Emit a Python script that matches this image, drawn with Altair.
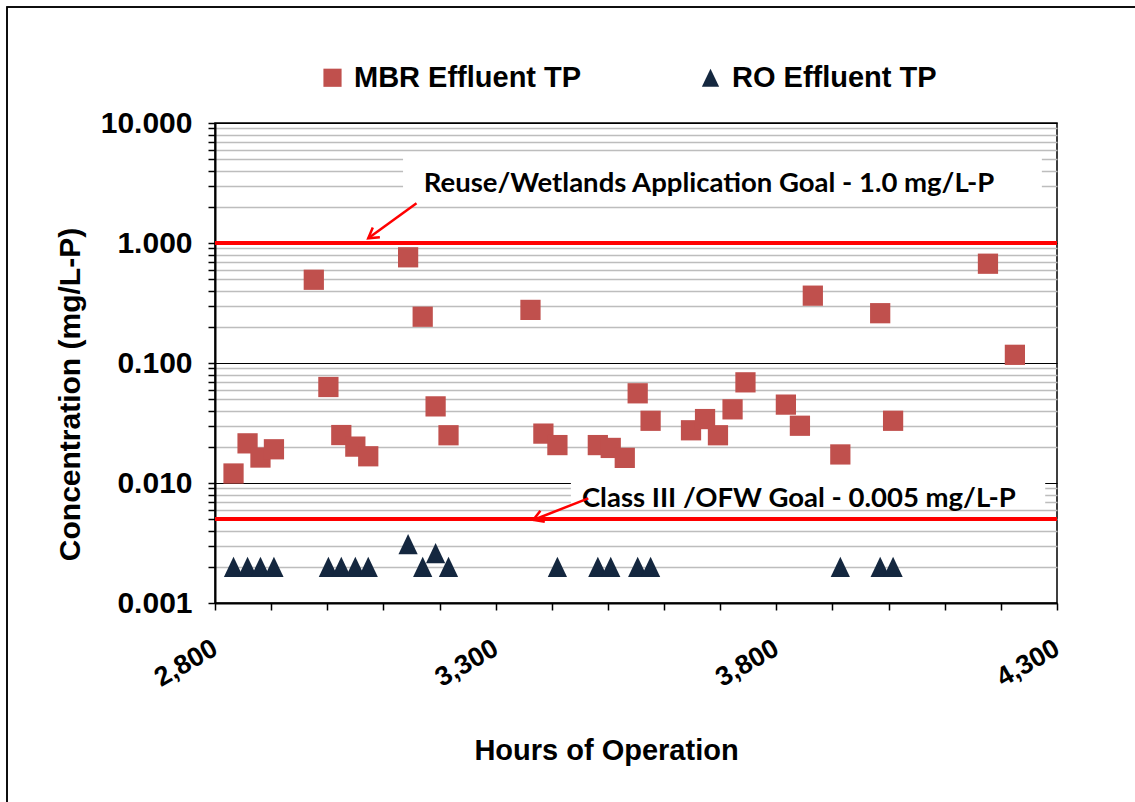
import altair as alt
import pandas as pd

# ---------------- data ----------------
mbr_hours = [2833, 2858, 2881, 2905, 2976, 3002, 3025, 3050, 3073, 3144, 3170,
             3193, 3216, 3362, 3385, 3410, 3482, 3505, 3530, 3553, 3576, 3648,
             3673, 3696, 3722, 3745, 3817, 3842, 3865, 3914, 3985, 4008, 4177, 4225]
mbr_tp = [0.0120, 0.0214, 0.0163, 0.0191, 0.494, 0.0631, 0.0251, 0.0201, 0.0167,
          0.760, 0.243, 0.0435, 0.0250, 0.277, 0.0258, 0.0207, 0.0207, 0.0196,
          0.0162, 0.0559, 0.0330, 0.0275, 0.0341, 0.0250, 0.0411, 0.0690, 0.0450,
          0.0300, 0.364, 0.0173, 0.260, 0.0330, 0.672, 0.117]

ro_hours = [2833, 2858, 2881, 2905, 3002, 3025, 3050, 3073, 3144, 3170, 3193,
            3216, 3410, 3482, 3505, 3553, 3576, 3914, 3985, 4008]
ro_tp = [0.002, 0.002, 0.002, 0.002, 0.002, 0.002, 0.002, 0.002, 0.0031, 0.002,
         0.0026, 0.002, 0.002, 0.002, 0.002, 0.002, 0.002, 0.002, 0.002, 0.002]

series_names = ["MBR Effluent TP", "RO Effluent TP"]
series_colors = ["#C0504D", "#14273F"]
series_shapes = ["square", "M0,-1L0.95,1L-0.95,1Z"]

goal_values = [1.0, 0.005]

note_text = ["Reuse/Wetlands Application Goal - 1.0 mg/L-P",
             "Class III /OFW Goal - 0.005 mg/L-P"]
note_x = [3680, 3840]
note_y = [2.676, 0.00631]

box_x1 = [3135, 3434]
box_x2 = [4273, 4279]
box_y1 = [2.5, 0.0065]
box_y2 = [5.5, 0.011]

arrow_x1 = [3159, 3465]
arrow_y1 = [2.14, 0.00745]
arrow_x2 = [3073, 3367]
arrow_y2 = [1.094, 0.00492]
arrow_angle = [234, 248.5]

x_tick_values = [2800, 2900, 3000, 3100, 3200, 3300, 3400, 3500, 3600, 3700,
                 3800, 3900, 4000, 4100, 4200, 4300]
y_tick_values = [0.001, 0.002, 0.003, 0.004, 0.005, 0.006, 0.007, 0.008, 0.009,
                 0.01, 0.02, 0.03, 0.04, 0.05, 0.06, 0.07, 0.08, 0.09,
                 0.1, 0.2, 0.3, 0.4, 0.5, 0.6, 0.7, 0.8, 0.9,
                 1, 2, 3, 4, 5, 6, 7, 8, 9, 10]

# ---------------- tables ----------------
points = pd.concat([
    pd.DataFrame({"hours": mbr_hours, "tp": mbr_tp, "series": series_names[0]}),
    pd.DataFrame({"hours": ro_hours, "tp": ro_tp, "series": series_names[1]}),
], ignore_index=True)
goals = pd.DataFrame({"goal": goal_values})
notes = pd.DataFrame({"text": note_text, "x": note_x, "y": note_y})
boxes = pd.DataFrame({"x1": box_x1, "x2": box_x2, "y1": box_y1, "y2": box_y2})
arrows = pd.DataFrame({"x1": arrow_x1, "y1": arrow_y1, "x2": arrow_x2,
                       "y2": arrow_y2, "ang": arrow_angle})

FONT = "Liberation Sans"
is_decade = "abs(log(datum.value)/LN10 - round(log(datum.value)/LN10)) < 0.01"

xscale = alt.Scale(domain=[2800, 4300], nice=False, zero=False)
yscale = alt.Scale(type="log", domain=[0.001, 10], nice=False)

xaxis = alt.Axis(
    title="Hours of Operation", values=x_tick_values,
    labelExpr="(datum.value - 2800) % 500 == 0 ? format(datum.value, ',') : ''",
    labelAngle=330, labelAlign="right", labelBaseline="middle",
    labelPadding=36, labelFontSize=27, labelFont=FONT, labelFontWeight="bold",
    labelColor="black", labelOverlap=False, labelFlush=False,
    tickSize=7, tickColor="black", tickWidth=1.5, grid=False,
    domainColor="black", domainWidth=2,
    titleFont=FONT, titleFontSize=29, titleFontWeight="bold", titleColor="black",
    titleX=391, titleY=147, titleBaseline="middle", titleAnchor="middle",
)
yaxis = alt.Axis(
    title="Concentration (mg/L-P)", values=y_tick_values,
    labelExpr="(" + is_decade + ") ? format(datum.value, '.3f') : ''",
    labelFontSize=30, labelFont=FONT, labelFontWeight="bold", labelColor="black",
    labelPadding=16, labelOverlap=False, labelFlush=False,
    tickSize=7, tickColor="black", tickWidth=1.5,
    grid=True,
    gridColor={"condition": {"test": is_decade, "value": "#000000"}, "value": "#BDBDBD"},
    gridWidth={"condition": {"test": is_decade, "value": 1.2}, "value": 1.4},
    domainColor="black", domainWidth=2,
    titleFont=FONT, titleFontSize=30, titleFontWeight="bold", titleColor="black",
    titleX=-145, titleY=271, titleBaseline="middle", titleAnchor="middle",
)

legend = alt.Legend(
    orient="none", legendX=103, legendY=-60, direction="horizontal", title=None,
    symbolSize=330, labelFont=FONT, labelFontWeight="bold", labelFontSize=29,
    labelColor="black", columnPadding=114, labelOffset=7, padding=0,
    symbolStrokeWidth=0, symbolOpacity=1, labelLimit=0,
)

base_x = lambda f: alt.X(f, type="quantitative", scale=xscale, axis=xaxis)
base_y = lambda f: alt.Y(f, type="quantitative", scale=yscale, axis=yaxis)

frame = alt.Chart(goals).mark_rect(filled=False, stroke="black", strokeWidth=1.5).encode(
    x=alt.value(-208), x2=alt.value(2000), y=alt.value(-116), y2=alt.value(2000)
)

box_layer = alt.Chart(boxes).mark_rect(color="white", opacity=1).encode(
    x=base_x("x1"), x2="x2", y=base_y("y1"), y2="y2"
)

goal_layer = alt.Chart(goals).mark_rule(color="#FF0000", strokeWidth=4).encode(
    y=base_y("goal")
)

point_layer = alt.Chart(points).mark_point(filled=True, opacity=1, strokeWidth=0).encode(
    x=base_x("hours"),
    y=base_y("tp"),
    color=alt.Color("series:N", scale=alt.Scale(domain=series_names, range=series_colors),
                    legend=legend),
    shape=alt.Shape("series:N", scale=alt.Scale(domain=series_names, range=series_shapes),
                    legend=legend),
    size=alt.value(410),
)

note_layer = alt.Chart(notes).mark_text(
    font="Lato", fontWeight="bold", fontSize=27.5, color="black",
    align="center", baseline="alphabetic"
).encode(x=base_x("x"), y=base_y("y"), text="text:N")

arrow_line = alt.Chart(arrows).mark_rule(color="#FF0000", strokeWidth=2.5).encode(
    x=base_x("x1"), y=base_y("y1"), x2="x2", y2="y2"
)
arrow_head = alt.Chart(arrows).mark_point(
    shape="M-0.6,1L0,0L0.6,1", filled=False, color="#FF0000", strokeWidth=2.5,
    size=400, opacity=1
).encode(x=base_x("x2"), y=base_y("y2"), angle=alt.Angle("ang:Q", scale=None))

chart = alt.layer(
    frame, box_layer, goal_layer, point_layer, note_layer, arrow_line, arrow_head
).properties(
    width=842, height=480,
    autosize=alt.AutoSizeParams(type="none"),
    padding={"left": 215, "top": 123, "right": 78, "bottom": 199},
    background="white",
).configure_view(stroke="black", strokeWidth=1.5)

chart.save("out.html", embed_options={"renderer": "svg", "actions": False})
